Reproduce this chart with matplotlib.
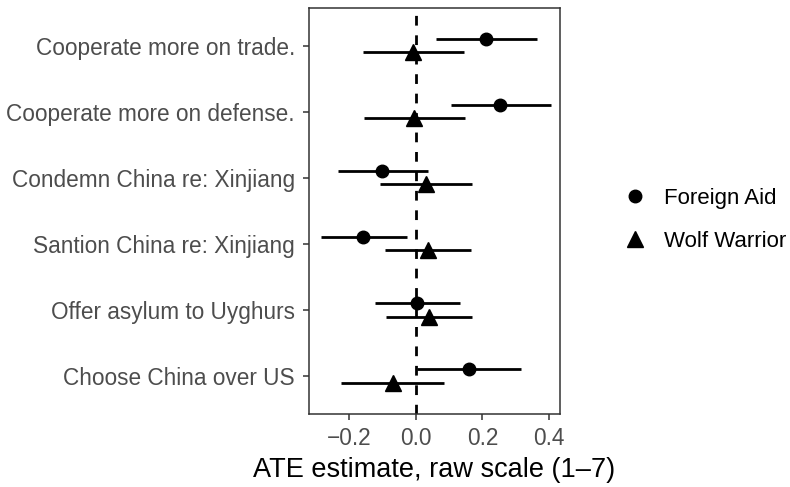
import matplotlib
matplotlib.use("Agg")
import matplotlib.pyplot as plt
from matplotlib.lines import Line2D
import numpy as np

plt.rcParams['font.family'] = ['Liberation Sans', 'DejaVu Sans']

outcomes = ["Cooperate more on trade.", "Cooperate more on defense.",
            "Condemn China re: Xinjiang", "Santion China re: Xinjiang",
            "Offer asylum to Uyghurs", "Choose China over US"]
treatments = ["Foreign Aid", "Wolf Warrior"]

aid_est = [0.210, 0.254, -0.100, -0.157, 0.003, 0.161]
aid_lo = [0.061, 0.107, -0.234, -0.285, -0.122, 0.005]
aid_hi = [0.363, 0.405, 0.038, -0.027, 0.133, 0.315]

ww_est = [-0.007, -0.004, 0.031, 0.036, 0.039, -0.069]
ww_lo = [-0.157, -0.154, -0.106, -0.093, -0.089, -0.223]
ww_hi = [0.146, 0.149, 0.168, 0.167, 0.168, 0.086]

fig = plt.figure(figsize=(7.9, 4.87), dpi=100)
ax = fig.add_axes([0.391, 0.150, 0.318, 0.834])

n = len(outcomes)
ypos = np.arange(n, 0, -1)
dodge = 0.1

series = [(aid_est, aid_lo, aid_hi, 'o', 9, +dodge),
          (ww_est, ww_lo, ww_hi, '^', 11, -dodge)]
for est, lo, hi, mk, ms, off in series:
    y = ypos + off
    ax.hlines(y, lo, hi, color='black', lw=2.0, zorder=2)
    ax.plot(est, y, linestyle='none', marker=mk, color='black', ms=ms, zorder=3)

ax.axvline(0, color='black', lw=2.0, ls=(0, (3.5, 3.5)), zorder=1)

ax.set_xlim(-0.320, 0.433)
ax.set_ylim(0.424, 6.576)
ax.set_yticks(ypos)
ax.set_yticklabels(outcomes)
ax.set_xticks([-0.2, 0.0, 0.2, 0.4])
ax.set_xticklabels(['\u22120.2', '0.0', '0.2', '0.4'])
ax.tick_params(axis='both', colors='#333333', labelcolor='#4D4D4D',
               labelsize=16.3, length=4.3, width=1.1)
ax.tick_params(axis='x', pad=5.2)
ax.tick_params(axis='y', pad=5.8)
for s in ax.spines.values():
    s.set_color('#333333')
    s.set_linewidth(1.1)
ax.set_xlabel('ATE estimate, raw scale (1\u20137)', fontsize=19.5, color='black', labelpad=5)

handles = [Line2D([], [], linestyle='none', marker='o', color='black', ms=9),
           Line2D([], [], linestyle='none', marker='^', color='black', ms=11)]
fig.legend(handles, treatments, loc='center left', bbox_to_anchor=(0.765, 0.548),
           frameon=False, fontsize=16, handletextpad=0.8, labelspacing=1.0,
           handlelength=1.0)

fig.savefig('out.png', dpi=100)
